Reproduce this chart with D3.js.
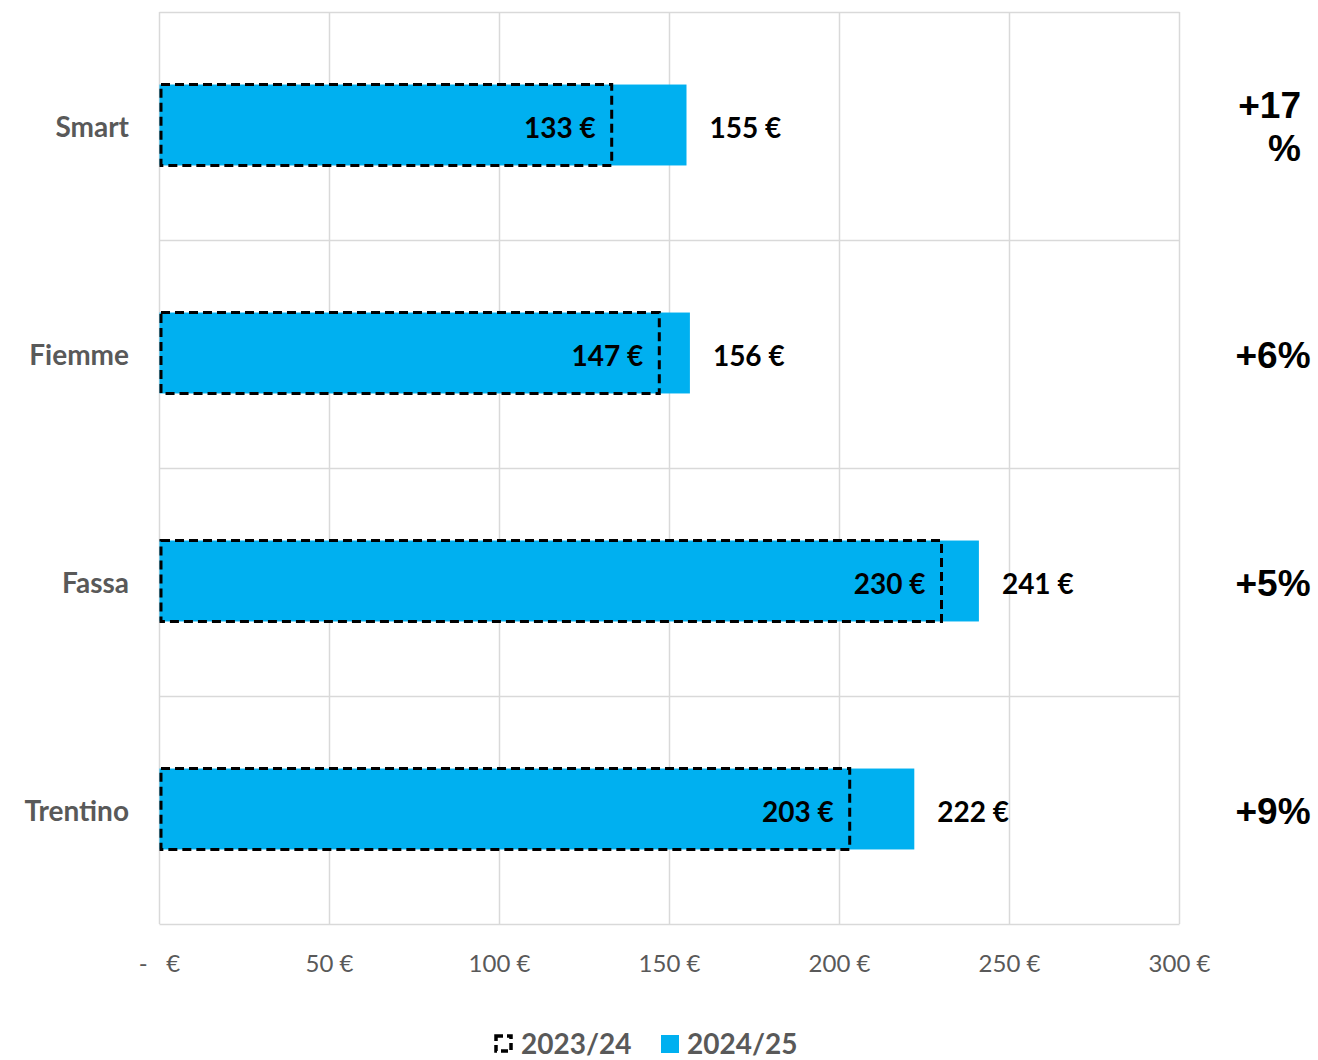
<!DOCTYPE html>
<html><head><meta charset="utf-8">
<script src="https://cdn.jsdelivr.net/npm/d3@7"></script>
<style>body{margin:0;background:#fff}</style>
</head><body>
<svg id="c" width="1318" height="1060"></svg>
<script>
const categories = ["Smart", "Fiemme", "Fassa", "Trentino"];
const prev = [133, 147, 230, 203];   // 2023/24
const curr = [155, 156, 241, 222];   // 2024/25
const pctLabels = [["+17", "%"], ["+6%"], ["+5%"], ["+9%"]];
const ticks = [0, 50, 100, 150, 200, 250, 300];
const seriesNames = ["2023/24", "2024/25"];

const svg = d3.select("#c");
const x = d3.scaleLinear().domain([0, 300]).range([159.5, 1179.5]);
const y = d3.scaleBand().domain(categories).range([12, 924]).paddingInner(0).paddingOuter(0);
const blue = "#00B0F0", grid = "#D9D9D9", gray = "#595959";
const barH = y.bandwidth() * 0.355;
const font = "Lato, 'Open Sans', sans-serif";

// vertical grid
svg.append("g").selectAll("line").data(ticks).join("line")
  .attr("x1", d => x(d)).attr("x2", d => x(d))
  .attr("y1", 12).attr("y2", 924).attr("stroke", grid).attr("stroke-width", 1.5);
// horizontal band lines
const bounds = categories.map(c => y(c)).concat([924]);
svg.append("g").selectAll("line").data(bounds).join("line")
  .attr("x1", x(0)).attr("x2", x(300))
  .attr("y1", d => d + 0.5).attr("y2", d => d + 0.5).attr("stroke", grid).attr("stroke-width", 1.5);

// axis tick labels
const fmt = d => d === 0 ? "-   €" : d + " €";
svg.append("g").selectAll("text").data(ticks).join("text")
  .attr("x", d => x(d)).attr("y", 972)
  .attr("text-anchor", "middle").attr("font-family", font)
  .attr("font-size", 24).attr("fill", gray).attr("xml:space", "preserve")
  .text(fmt);

// category labels
svg.append("g").selectAll("text").data(categories).join("text")
  .attr("x", 129).attr("y", d => y(d) + y.bandwidth() / 2 + 1)
  .attr("dy", "0.35em").attr("text-anchor", "end")
  .attr("font-family", font).attr("font-weight", "bold")
  .attr("font-size", 28).attr("fill", gray).text(d => d);

const cy = c => y(c) + y.bandwidth() / 2 - barH / 2 - 1;

// current bars
svg.append("g").selectAll("rect").data(categories).join("rect")
  .attr("x", x(0)).attr("y", cy)
  .attr("width", (c, i) => x(curr[i]) - x(0)).attr("height", barH)
  .attr("fill", blue);
// previous dashed outline
svg.append("g").selectAll("rect").data(categories).join("rect")
  .attr("x", x(0) + 1.5).attr("y", cy)
  .attr("width", (c, i) => x(prev[i]) - x(0) - 1.5).attr("height", barH)
  .attr("fill", "none").attr("stroke", "#000").attr("stroke-width", 3)
  .attr("stroke-dasharray", "9,5");

// previous value labels (inside)
svg.append("g").selectAll("text").data(categories).join("text")
  .attr("x", (c, i) => x(prev[i]) - 16).attr("y", c => y(c) + y.bandwidth() / 2 + 2)
  .attr("dy", "0.35em").attr("text-anchor", "end")
  .attr("font-family", font).attr("font-weight", "bold").attr("font-size", 28)
  .attr("fill", "#000").text((c, i) => prev[i] + " €");
// current value labels (outside)
svg.append("g").selectAll("text").data(categories).join("text")
  .attr("x", (c, i) => x(curr[i]) + 23).attr("y", c => y(c) + y.bandwidth() / 2 + 2)
  .attr("dy", "0.35em").attr("text-anchor", "start")
  .attr("font-family", font).attr("font-weight", "bold").attr("font-size", 28)
  .attr("fill", "#000").text((c, i) => curr[i] + " €");

// percentage labels
const pg = svg.append("g");
categories.forEach((c, i) => {
  const lines = pctLabels[i];
  const mid = y(c) + y.bandwidth() / 2;
  const lh = 43;
  const t = pg.append("text")
    .attr("font-family", "'Liberation Sans', Arial, sans-serif").attr("font-weight", "bold")
    .attr("font-size", 37).attr("fill", "#000")
    .attr("text-anchor", lines.length > 1 ? "end" : "middle");
  lines.forEach((l, k) => {
    t.append("tspan")
      .attr("x", lines.length > 1 ? 1301 : 1273)
      .attr("y", mid - (lines.length - 1) * lh / 2 + k * lh + 1)
      .attr("dy", "0.35em").text(l);
  });
});

// legend
const lg = svg.append("g");
lg.append("rect").attr("x", 496).attr("y", 1036).attr("width", 15).attr("height", 15)
  .attr("fill", "none").attr("stroke", "#000").attr("stroke-width", 3.5).attr("stroke-dasharray", "7,4");
lg.append("text").attr("x", 521).attr("y", 1054).attr("font-family", font).attr("font-weight", "bold")
  .attr("font-size", 28).attr("fill", gray).text(seriesNames[0]);
lg.append("rect").attr("x", 661).attr("y", 1035).attr("width", 18).attr("height", 18).attr("fill", blue);
lg.append("text").attr("x", 687).attr("y", 1054).attr("font-family", font).attr("font-weight", "bold")
  .attr("font-size", 28).attr("fill", gray).text(seriesNames[1]);
</script>
</body></html>
